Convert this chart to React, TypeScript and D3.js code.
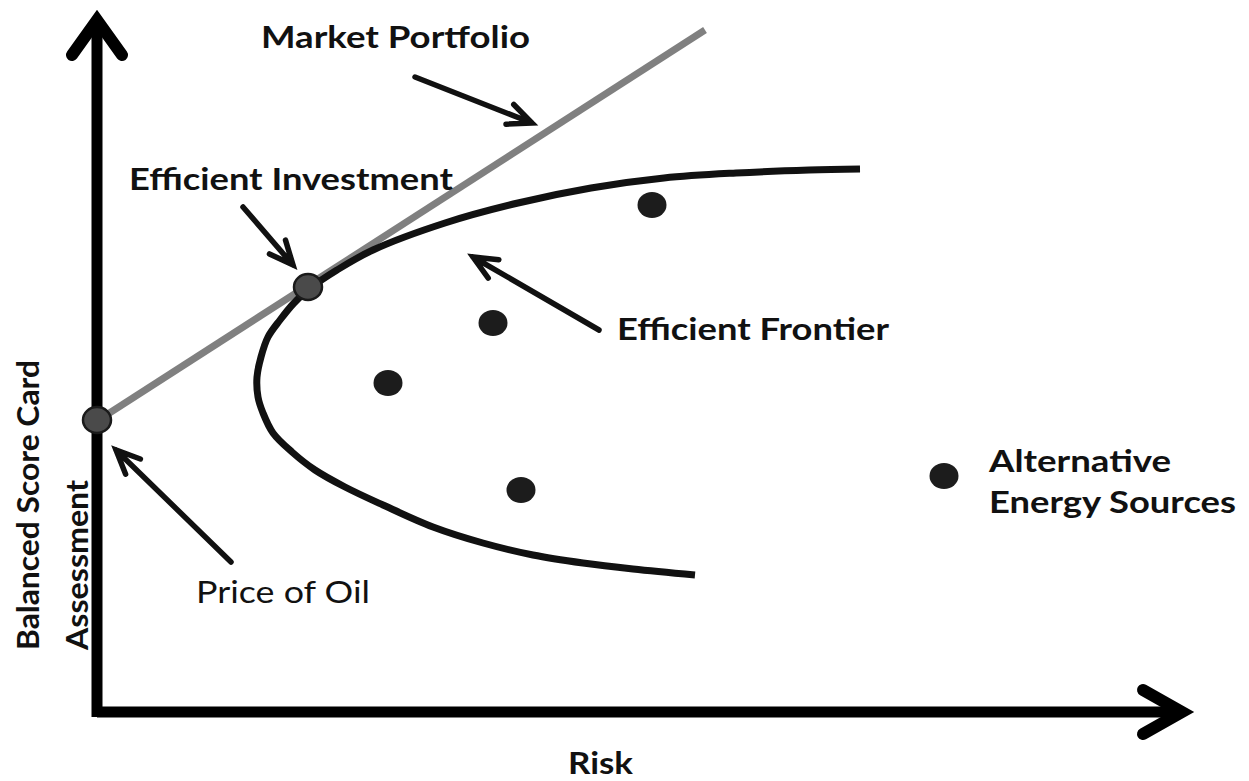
import React from 'react';
import * as d3 from 'd3';

// frontier curve (risk, score) from top end to bottom end
const frontierRisk = [76.3, 71.2, 63.9, 56.7, 49.4, 42.1, 34.8, 27.6, 24.0, 21.2, 19.7, 18.3, 17.1, 16.4, 16.0, 16.1, 16.6, 17.6, 19.5, 21.8, 24.8, 28.6, 33.6, 38.6, 43.6, 48.6, 53.6, 59.8];
const frontierScore = [54.3, 54.2, 53.9, 53.4, 52.4, 50.9, 48.9, 46.2, 44.2, 42.3, 40.9, 39.2, 37.5, 35.5, 33.5, 31.5, 29.9, 27.9, 26.0, 24.2, 22.5, 20.7, 18.5, 16.9, 15.7, 14.9, 14.3, 13.7];

// market line (capital market line)
const marketRisk = [0, 60.8];
const marketScore = [29.1, 68.2];

// highlighted points: price of oil, efficient investment
const keyRisk = [0, 21.1];
const keyScore = [29.2, 42.5];

// individual assets
const assetRisk = [55.5, 39.6, 29.1, 42.4, 84.7];
const assetScore = [50.7, 38.9, 32.9, 22.2, 23.6];

// annotation arrows: from -> to
const arrowFromRisk = [31.8, 14.6, 50.2, 13.4];
const arrowFromScore = [63.5, 50.5, 38.2, 15.0];
const arrowToRisk = [43.5, 19.6, 37.6, 1.9];
const arrowToScore = [58.9, 44.7, 45.5, 26.2];

// labels
const labelText = ['Market Portfolio', 'Efficient Investment', 'Efficient Frontier', 'Alternative', 'Energy Sources', 'Price of Oil'];
const labelRisk = [16.4, 3.2, 52.0, 89.2, 89.2, 9.9];
const labelScore = [66.4, 52.2, 37.2, 24.0, 19.9, 10.9];
const labelWidth = [269, 324, 272, 182, 247, 174];
const labelBold = [true, true, true, true, true, false];

const W = 1249;
const H = 781;
const FONT = 'Lato, "Open Sans", sans-serif';

const x = d3.scaleLinear().domain([0, 110]).range([97, 1197]);
const y = d3.scaleLinear().domain([0, 70]).range([712, 12]);

function arrowPath(x1: number, y1: number, x2: number, y2: number, len = 26, deg = 24) {
  const a = Math.atan2(y2 - y1, x2 - x1);
  const t = (deg * Math.PI) / 180;
  const p1 = [x2 - len * Math.cos(a - t), y2 - len * Math.sin(a - t)];
  const p2 = [x2 - len * Math.cos(a + t), y2 - len * Math.sin(a + t)];
  return `M${x1},${y1}L${x2},${y2}M${p1[0]},${p1[1]}L${x2},${y2}L${p2[0]},${p2[1]}`;
}

const App = () => {
  const frontier = d3
    .line<number>()
    .x((_, i) => x(frontierRisk[i]))
    .y((_, i) => y(frontierScore[i]))
    .curve(d3.curveCatmullRom.alpha(0.5))(frontierRisk);

  const x0 = x(0);
  const y0 = y(0);

  return (
    <svg width={W} height={H} style={{ position: 'absolute', left: 0, top: 0, background: '#fff' }}>
      {/* axes */}
      <g stroke="#000" fill="none" strokeWidth={11}>
        <line x1={x0} y1={y0 + 5} x2={x0} y2={20} />
        <line x1={x0} y1={y0} x2={1182} y2={y0} />
      </g>
      <g stroke="#000" fill="none" strokeWidth={12} strokeLinecap="round" strokeLinejoin="miter">
        <polyline points={`${x0 - 25},55 ${x0},20 ${x0 + 25},55`} />
        <polyline points={`1143,${y0 - 22} 1182,${y0} 1143,${y0 + 22}`} />
      </g>

      {/* market line */}
      <line
        x1={x(marketRisk[0])}
        y1={y(marketScore[0])}
        x2={x(marketRisk[1])}
        y2={y(marketScore[1])}
        stroke="#808080"
        strokeWidth={7}
      />

      {/* efficient frontier */}
      <path d={frontier || ''} fill="none" stroke="#111" strokeWidth={7} />

      {/* assets */}
      {assetRisk.map((r, i) => (
        <ellipse key={i} cx={x(r)} cy={y(assetScore[i])} rx={14.5} ry={13} fill="#1c1c1c" />
      ))}

      {/* highlighted points */}
      {keyRisk.map((r, i) => (
        <ellipse key={i} cx={x(r)} cy={y(keyScore[i])} rx={14} ry={13} fill="#4a4a4a" stroke="#1a1a1a" strokeWidth={2.5} />
      ))}

      {/* annotation arrows */}
      <g stroke="#111" fill="none" strokeWidth={5.5} strokeLinecap="round" strokeLinejoin="miter">
        {arrowFromRisk.map((r, i) => (
          <path key={i} d={arrowPath(x(r), y(arrowFromScore[i]), x(arrowToRisk[i]), y(arrowToScore[i]))} />
        ))}
      </g>

      {/* labels */}
      <g fontFamily={FONT} fill="#111" fontSize={31}>
        {labelText.map((t, i) => (
          <text
            key={i}
            x={x(labelRisk[i])}
            y={y(labelScore[i])}
            fontWeight={labelBold[i] ? 700 : 400}
            textLength={labelWidth[i]}
            lengthAdjust="spacingAndGlyphs"
          >
            {t}
          </text>
        ))}
        <text x={568} y={774} fontWeight={700} textLength={65} lengthAdjust="spacingAndGlyphs">Risk</text>
        <text transform="translate(39,650) rotate(-90)" fontWeight={700} textLength={290} lengthAdjust="spacingAndGlyphs">
          Balanced Score Card
        </text>
        <text transform="translate(88,650) rotate(-90)" fontWeight={700} textLength={170} lengthAdjust="spacingAndGlyphs">
          Assessment
        </text>
      </g>
    </svg>
  );
};

export default App;
